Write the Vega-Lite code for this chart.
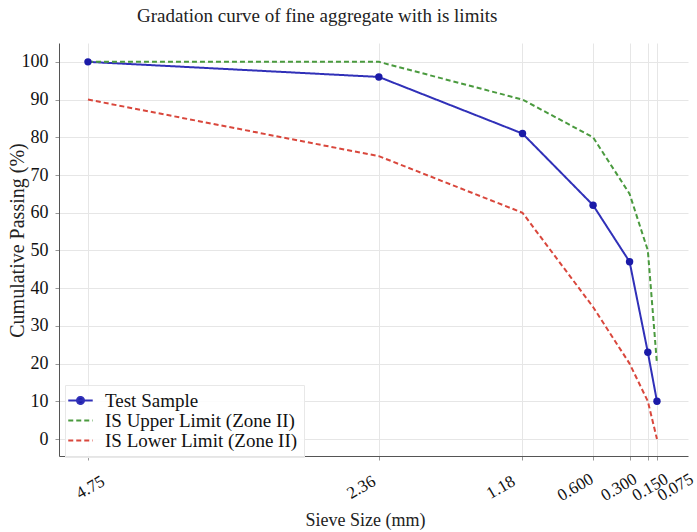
{
  "$schema": "https://vega.github.io/schema/vega-lite/v6.json",
  "width": 629,
  "height": 413,
  "autosize": {"type": "none"},
  "padding": {"left": 59, "top": 43, "right": 9, "bottom": 76},
  "title": {"text": "Gradation curve of fine aggregate with is limits", "anchor": "start", "frame": "group", "dx": 78, "offset": 17, "fontSize": 19, "font": "Liberation Serif", "fontWeight": "normal", "color": "#222222"},
  "config": {"view": {"stroke": null}, "font": "Liberation Serif"},
  "data": {"values": [
    {"series": "Test Sample", "sieve": 4.75, "passing": 100},
    {"series": "Test Sample", "sieve": 2.36, "passing": 96},
    {"series": "Test Sample", "sieve": 1.18, "passing": 81},
    {"series": "Test Sample", "sieve": 0.6, "passing": 62},
    {"series": "Test Sample", "sieve": 0.3, "passing": 47},
    {"series": "Test Sample", "sieve": 0.15, "passing": 23},
    {"series": "Test Sample", "sieve": 0.075, "passing": 10},
    {"series": "IS Upper Limit (Zone II)", "sieve": 4.75, "passing": 100},
    {"series": "IS Upper Limit (Zone II)", "sieve": 2.36, "passing": 100},
    {"series": "IS Upper Limit (Zone II)", "sieve": 1.18, "passing": 90},
    {"series": "IS Upper Limit (Zone II)", "sieve": 0.6, "passing": 80},
    {"series": "IS Upper Limit (Zone II)", "sieve": 0.3, "passing": 65},
    {"series": "IS Upper Limit (Zone II)", "sieve": 0.15, "passing": 50},
    {"series": "IS Upper Limit (Zone II)", "sieve": 0.075, "passing": 20},
    {"series": "IS Lower Limit (Zone II)", "sieve": 4.75, "passing": 90},
    {"series": "IS Lower Limit (Zone II)", "sieve": 2.36, "passing": 75},
    {"series": "IS Lower Limit (Zone II)", "sieve": 1.18, "passing": 60},
    {"series": "IS Lower Limit (Zone II)", "sieve": 0.6, "passing": 35},
    {"series": "IS Lower Limit (Zone II)", "sieve": 0.3, "passing": 20},
    {"series": "IS Lower Limit (Zone II)", "sieve": 0.15, "passing": 10},
    {"series": "IS Lower Limit (Zone II)", "sieve": 0.075, "passing": 0}
  ]},
  "layer": [
    {
      "mark": {"type": "line", "strokeWidth": 2},
      "encoding": {
        "x": {
          "field": "sieve", "type": "quantitative",
          "scale": {"domain": [-0.18, 4.988], "reverse": true, "nice": false, "zero": false},
          "axis": {
            "values": [4.75, 2.36, 1.18, 0.6, 0.3, 0.15, 0.075],
            "labelExpr": "datum.value >= 1 ? format(datum.value, '.2f') : format(datum.value, '.3f')",
            "labelAngle": -30, "labelAlign": "center", "labelBaseline": "middle",
            "labelPadding": 27,
            "labelOffset": {"condition": [
              {"test": "datum.value == 4.75", "value": 2},
              {"test": "datum.value == 2.36", "value": -18},
              {"test": "datum.value == 1.18", "value": -22},
              {"test": "datum.value == 0.6", "value": -18},
              {"test": "datum.value == 0.3", "value": -11},
              {"test": "datum.value == 0.15", "value": 2},
              {"test": "datum.value == 0.075", "value": 18}
            ], "value": -8},
            "labelFontSize": 17, "labelColor": "#111111",
            "labelFont": "Liberation Serif", "labelOverlap": false, "labelFlush": false, "labelBound": false,
            "title": "Sieve Size (mm)", "titleFontSize": 18, "titleFontWeight": "normal", "titleFont": "Liberation Serif",
            "titlePadding": 8, "titleColor": "#222222", "titleX": 306,
            "grid": true, "gridColor": "#e6e6e6", "domainColor": "#555555", "tickColor": "#999999", "tickSize": 4
          }
        },
        "y": {
          "field": "passing", "type": "quantitative",
          "scale": {"domain": [-4.5, 105], "nice": false, "zero": false},
          "axis": {
            "values": [0, 10, 20, 30, 40, 50, 60, 70, 80, 90, 100],
            "labelFontSize": 18, "labelColor": "#111111", "labelFont": "Liberation Serif", "labelPadding": 7,
            "title": "Cumulative Passing (%)", "titleFontSize": 20, "titleFontWeight": "normal", "titleFont": "Liberation Serif",
            "titleColor": "#222222", "titleX": -42, "titleY": 197, "titleBaseline": "middle", "titleAngle": -90,
            "grid": true, "gridColor": "#e6e6e6", "domainColor": "#555555", "tickColor": "#999999", "tickSize": 4
          }
        },
        "color": {
          "field": "series", "type": "nominal",
          "scale": {"domain": ["Test Sample", "IS Upper Limit (Zone II)", "IS Lower Limit (Zone II)"], "range": ["#3030b8", "#4a9a3e", "#d9473c"]},
          "legend": {
            "title": null, "orient": "none", "legendX": 6, "legendY": 342,
            "labelFontSize": 19, "labelFont": "Liberation Serif", "labelColor": "#111111", "labelLimit": 400,
            "symbolType": "M-2,0L2,0", "symbolSize": 150, "symbolStrokeWidth": 2,
            "rowPadding": 0, "fillColor": "rgba(255,255,255,0.85)", "strokeColor": "#e8e8e8",
            "padding": 6, "labelOffset": 15,
            "encode": {"symbols": {"update": {
              "shape": {"signal": "datum.value === 'Test Sample' ? 'M-2,0L2,0M-0.57,0A0.57,0.57 0 1 1 0.57,0A0.57,0.57 0 1 1 -0.57,0Z' : 'M-2,0L2,0'"},
              "fill": {"signal": "datum.value === 'Test Sample' ? '#1a1aa8' : 'transparent'"}
            }}}
          }
        },
        "strokeDash": {
          "field": "series", "type": "nominal",
          "scale": {"domain": ["Test Sample", "IS Upper Limit (Zone II)", "IS Lower Limit (Zone II)"], "range": [[1, 0], [5, 3], [5, 3]]},
          "legend": {
            "title": null, "orient": "none", "legendX": 6, "legendY": 342,
            "labelFontSize": 19, "labelFont": "Liberation Serif", "labelColor": "#111111", "labelLimit": 400,
            "symbolType": "M-2,0L2,0", "symbolSize": 150, "symbolStrokeWidth": 2,
            "rowPadding": 0, "fillColor": "rgba(255,255,255,0.85)", "strokeColor": "#e8e8e8",
            "padding": 6, "labelOffset": 15
          }
        }
      }
    },
    {
      "transform": [{"filter": "datum.series === 'Test Sample'"}],
      "mark": {"type": "point", "filled": true, "size": 55, "opacity": 1, "color": "#1a1aa8"},
      "encoding": {
        "x": {"field": "sieve", "type": "quantitative"},
        "y": {"field": "passing", "type": "quantitative"}
      }
    }
  ]
}
